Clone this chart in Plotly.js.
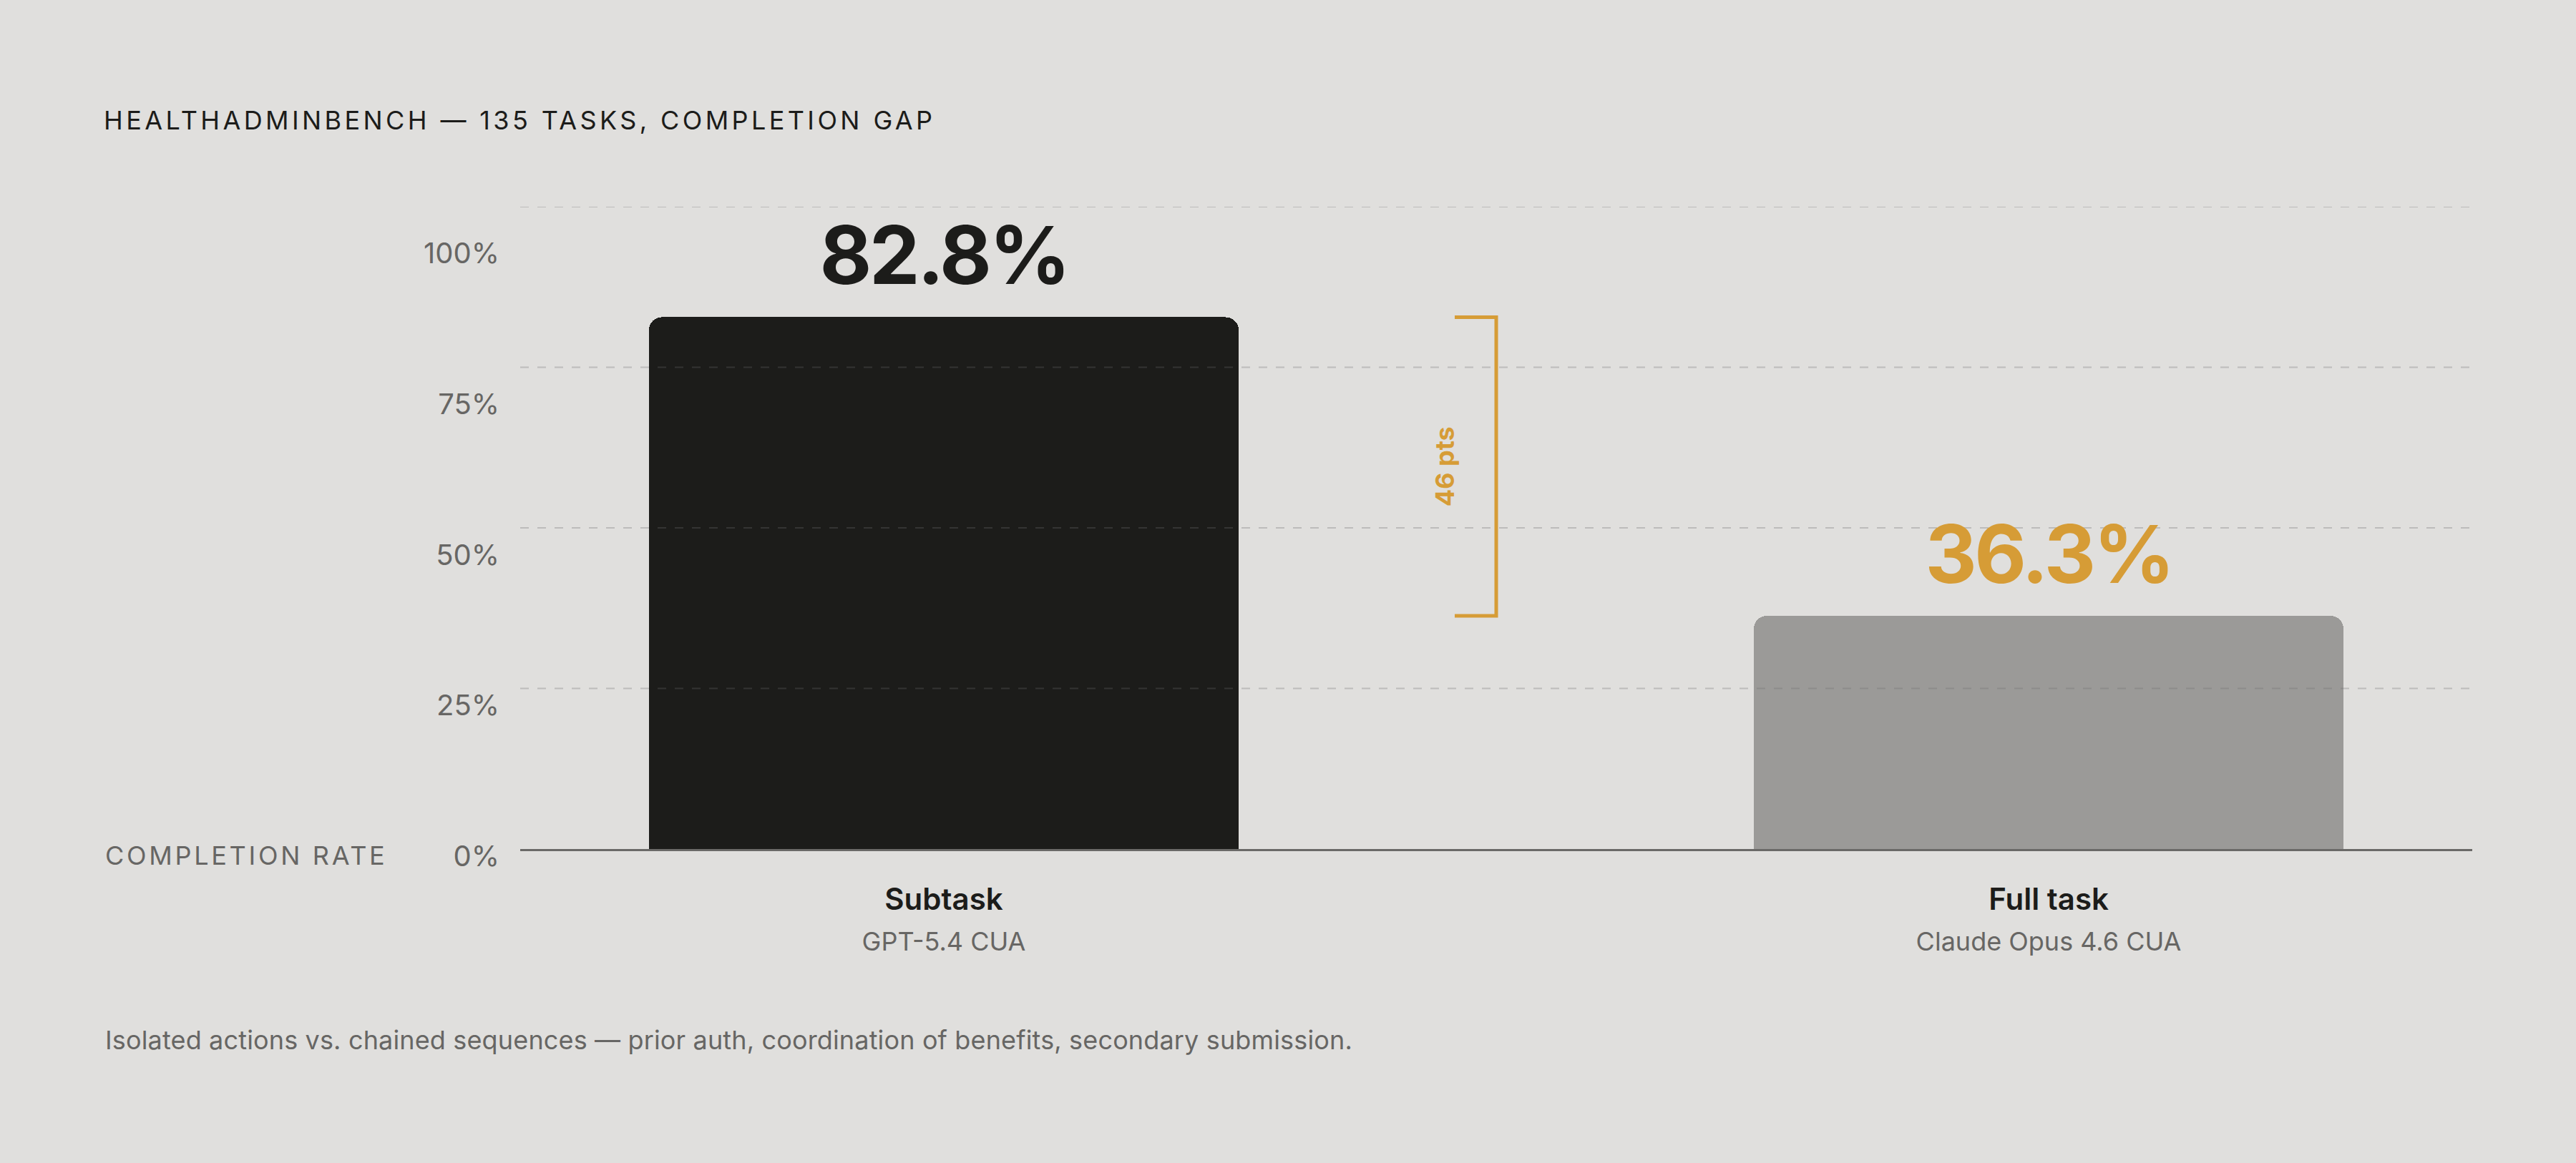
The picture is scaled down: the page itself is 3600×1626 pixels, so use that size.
<!DOCTYPE html>
<html>
<head>
<meta charset="utf-8">
<script src="https://cdn.plot.ly/plotly-3.0.1.min.js"></script>
<style>
  html, body { margin: 0; padding: 0; background: #e0dfdd; }
  #chart { width: 3600px; height: 1626px; }
  /* tracked caps for the title and the axis caption */
  .gtitle { letter-spacing: 0.122em; }
  g.annotation[data-index="0"] text { letter-spacing: 0.103em; }
  g.annotation[data-index="1"] text { letter-spacing: 0.15px; }
  g.annotation[data-index="3"] text,
  g.annotation[data-index="4"] text { letter-spacing: -0.03em; }
</style>
</head>
<body>
<div id="chart"></div>
<script>
/* ── data ── */
const categories  = ['Subtask', 'Full task'];
const models      = ['GPT-5.4 CUA', 'Claude Opus 4.6 CUA'];
const rates       = [82.8, 36.3];
const rateLabels  = ['82.8%', '36.3%'];
const yTickValues = [0, 25, 50, 75, 100];
const yTickLabels = ['0%', '25%', '50%', '75%', '100%'];
const gapLabel    = '46 pts';

const TITLE     = 'HEALTHADMINBENCH — 135 TASKS, COMPLETION GAP';
const Y_CAPTION = 'COMPLETION RATE';
const FOOTNOTE  = 'Isolated actions vs. chained sequences — prior auth, coordination of benefits, secondary submission.';

/* ── style ── */
const FONT  = 'Inter, "Noto Sans", "DejaVu Sans", sans-serif';
const BG    = '#e0dfdd';
const INK   = '#1c1c1a';
const MUTED = '#676664';
const GOLD  = '#d69c36';
const barColors   = [INK, '#9b9a98'];
const labelColors = [INK, GOLD];

const W = 3600, H = 1626;
const M = { l: 727, r: 145, t: 289, b: 411 };
const plotW = W - M.l - M.r;
const plotH = H - M.t - M.b;
// main axis sits slightly above the paper bottom so the offset tick column can hang lower
const yDomain  = [28 / plotH, 1];
const y2Domain = [18 / plotH, 861 / plotH];

const traces = [
  {
    type: 'bar',
    x: categories.map((_, i) => i),
    y: rates,
    width: 0.5337,
    marker: { color: barColors, cornerradius: 18, line: { width: 0 } },
    hoverinfo: 'skip',
  },
  // empty trace so the tick-label axis gets a subplot
  { type: 'scatter', x: [], y: [], yaxis: 'y2', hoverinfo: 'skip', showlegend: false },
];

const tickText = categories.map((c, i) =>
  `<span style="font-size:42px">${c}</span><br>` +
  `<span style="font-size:36px;font-weight:400;color:${MUTED}">${models[i]}</span>`);

const annotations = [
  {
    text: Y_CAPTION, xref: 'paper', yref: 'paper',
    x: (145 - M.l) / plotW, y: (H - M.b - 1196) / plotH,
    xanchor: 'left', yanchor: 'middle', align: 'left', showarrow: false,
    font: { family: FONT, size: 36, color: MUTED },
  },
  {
    text: FOOTNOTE, xref: 'paper', yref: 'paper',
    x: (145 - M.l) / plotW, y: (H - M.b - 1454) / plotH,
    xanchor: 'left', yanchor: 'middle', align: 'left', showarrow: false,
    font: { family: FONT, size: 36, color: MUTED },
  },
  {
    text: gapLabel, xref: 'x', yref: 'y',
    x: 0.5, y: (rates[0] + rates[1]) / 2, xshift: -72,
    textangle: -90, showarrow: false,
    font: { family: FONT, size: 36, color: GOLD, weight: 700 },
  },
];

rates.forEach((v, i) => {
  annotations.push({
    text: rateLabels[i], xref: 'x', yref: 'y', x: i, y: v,
    yanchor: 'bottom', yshift: 18, showarrow: false, borderpad: 0,
    font: { family: FONT, size: 112, color: labelColors[i], weight: 700 },
  });
});

const shapes = yTickValues.filter(v => v > 0).map(v => ({
  type: 'line', xref: 'paper', yref: 'y', x0: 0, x1: 1, y0: v, y1: v,
  layer: 'above',
  line: { color: 'rgba(110,110,108,0.3)', width: 2, dash: '12px,12px' },
}));

// bracket marking the gap between the two bars
shapes.push({
  type: 'path', xref: 'x', yref: 'y', xsizemode: 'pixel', xanchor: 0.5,
  path: `M -58 ${rates[0]} L 0 ${rates[0]} L 0 ${rates[1]} L -58 ${rates[1]}`,
  layer: 'above',
  line: { color: GOLD, width: 5 },
});

const layout = {
  width: W, height: H,
  margin: { l: M.l, r: M.r, t: M.t, b: M.b, pad: 0 },
  paper_bgcolor: BG,
  plot_bgcolor: 'rgba(0,0,0,0)',
  showlegend: false,
  bargap: 0,
  title: {
    text: TITLE,
    xref: 'container', yref: 'container',
    x: 145 / W, xanchor: 'left',
    y: 1 - 168 / H, yanchor: 'middle',
    font: { family: FONT, size: 36, color: INK },
  },
  xaxis: {
    type: 'linear',
    range: [-0.3834, 1.3834],
    tickmode: 'array',
    tickvals: categories.map((_, i) => i),
    ticktext: tickText,
    tickfont: { family: FONT, size: 44, color: INK, weight: 600 },
    ticks: '',
    ticklabelstandoff: 29,
    showgrid: false,
    zeroline: false,
    showline: true,
    linecolor: '#6a6967',
    linewidth: 3,
    layer: 'above traces',
    fixedrange: true,
  },
  yaxis: {
    domain: yDomain,
    range: [0, 100],
    showticklabels: false,
    showgrid: false,
    zeroline: false,
    showline: false,
    ticks: '',
    fixedrange: true,
  },
  yaxis2: {
    domain: y2Domain,
    anchor: 'free',
    position: 0,
    range: [0, 100],
    tickmode: 'array',
    tickvals: yTickValues,
    ticktext: yTickLabels,
    tickfont: { family: FONT, size: 40, color: MUTED },
    ticks: '',
    ticklabelstandoff: 29,
    showgrid: false,
    zeroline: false,
    showline: false,
    fixedrange: true,
  },
  annotations,
  shapes,
};

Plotly.newPlot('chart', traces, layout, { staticPlot: true, displayModeBar: false });
</script>
</body>
</html>
